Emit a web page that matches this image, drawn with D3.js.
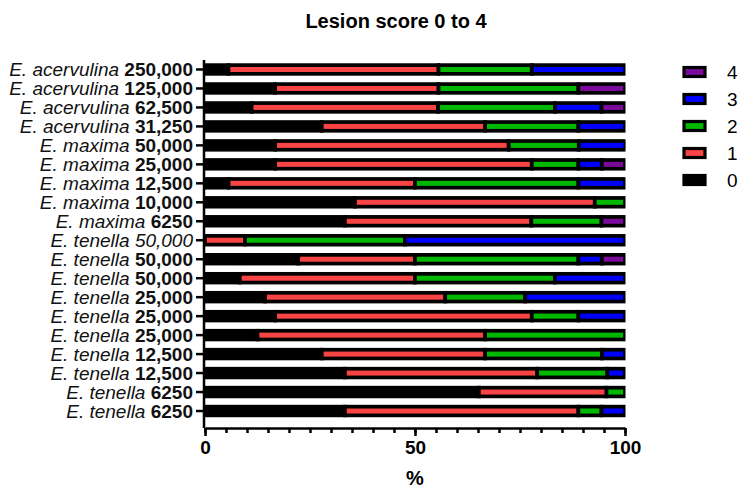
<!DOCTYPE html>
<html>
<head>
<meta charset="utf-8">
<script src="https://cdn.jsdelivr.net/npm/d3@7"></script>
<style>
  body { margin: 0; background: #fff; }
  text { font-family: "Liberation Sans", Arial, sans-serif; }
</style>
</head>
<body>
<div id="chart"></div>
<script>
// lesion score stacked bars, percent of birds per score

var species = ["E. acervulina", "E. acervulina", "E. acervulina", "E. acervulina",
    "E. maxima", "E. maxima", "E. maxima", "E. maxima", "E. maxima",
    "E. tenella", "E. tenella", "E. tenella", "E. tenella", "E. tenella",
    "E. tenella", "E. tenella", "E. tenella", "E. tenella", "E. tenella"];
var doses = ["250,000", "125,000", "62,500", "31,250",
    "50,000", "25,000", "12,500", "10,000", "6250",
    "50,000", "50,000", "50,000", "25,000", "25,000",
    "25,000", "12,500", "12,500", "6250", "6250"];
// row 10 is written all in italic, number not bold
var doseBold = [1,1,1,1, 1,1,1,1,1, 0,1,1,1,1, 1,1,1,1,1];

var score0 = [5.6, 16.7, 11.1, 27.8, 16.7, 16.7, 5.6, 35.7, 33.3, 0, 22.2, 8.3, 14.3, 16.7, 12.5, 27.8, 33.3, 65.2, 33.3];
var score1 = [50.0, 38.9, 44.4, 38.9, 55.6, 61.1, 44.4, 57.1, 44.4, 9.5, 27.8, 41.7, 42.9, 61.1, 54.2, 38.9, 45.8, 30.4, 55.6];
var score2 = [22.2, 33.3, 27.8, 22.2, 16.7, 11.1, 38.9, 7.2, 16.7, 38.1, 38.9, 33.3, 19.0, 11.1, 33.3, 27.8, 16.7, 4.4, 5.5];
var score3 = [22.2, 0, 11.1, 11.1, 11.1, 5.6, 11.1, 0, 0, 52.4, 5.6, 16.7, 23.8, 11.1, 0, 5.5, 4.2, 0, 5.6];
var score4 = [0, 11.1, 5.6, 0, 0, 5.5, 0, 0, 5.6, 0, 5.5, 0, 0, 0, 0, 0, 0, 0, 0];

var scoreKeys = ["0", "1", "2", "3", "4"];
var scoreColors = ["#000000", "#f84444", "#00b800", "#0000ff", "#7b0a9c"];
var xTicks = [0, 50, 100];

var width = 741, height = 493;
var mLeft = 205, mRight = 625, mTop = 60, mBottom = 420.5;

var rows = species.map(function(s, i) {
    return {i: i, sp: s, dose: doses[i], bold: doseBold[i],
            "0": score0[i], "1": score1[i], "2": score2[i], "3": score3[i], "4": score4[i]};
});

var svg = d3.select("#chart").append("svg")
    .attr("width", width)
    .attr("height", height);

svg.append("defs").append("clipPath")
    .attr("id", "plotclip")
    .append("rect")
    .attr("x", 200).attr("y", 0)
    .attr("width", mRight - 200 + 0.5).attr("height", height);

var x = d3.scaleLinear().domain([0, 100]).range([mLeft, mRight]);
var y = d3.scaleBand().domain(d3.range(rows.length)).range([mTop, mBottom]).paddingInner(0.54).paddingOuter(0.27);

var stack = d3.stack().keys(scoreKeys);
var series = stack(rows);

var barH = y.bandwidth();
var sw = 3.7;

var g = svg.append("g").attr("clip-path", "url(#plotclip)");
series.forEach(function(s, k) {
    g.selectAll("rect.s" + k)
        .data(s.filter(function(d){ return d[1] - d[0] > 0; }))
        .enter().append("rect")
        .attr("class", "s" + k)
        .attr("x", function(d){ return x(d[0]); })
        .attr("y", function(d){ return y(d.data.i); })
        .attr("width", function(d){ return x(d[1]) - x(d[0]); })
        .attr("height", barH)
        .attr("fill", scoreColors[k])
        .attr("stroke", "#000")
        .attr("stroke-width", sw);
});

// y axis
var yAxis = svg.append("g")
    .attr("transform", "translate(" + (mLeft - 1) + ",0)")
    .call(d3.axisLeft(y).tickSize(8).tickFormat(""));
yAxis.select(".domain").attr("d", "M0," + (mTop) + "V" + (mBottom + 7.5));
yAxis.selectAll("path, line").attr("stroke", "#000").attr("stroke-width", 2.5);

var labels = svg.append("g").selectAll("text")
    .data(rows).enter().append("text")
    .attr("x", mLeft - 12)
    .attr("y", function(d){ return y(d.i) + barH / 2; })
    .attr("dy", "0.36em")
    .attr("text-anchor", "end")
    .attr("font-size", "19px")
    .attr("fill", "#111");
labels.append("tspan").attr("font-style", "italic").text(function(d){ return d.sp + " "; });
labels.append("tspan")
    .attr("font-weight", function(d){ return d.bold ? "bold" : "normal"; })
    .attr("font-style", function(d){ return d.bold ? "normal" : "italic"; })
    .text(function(d){ return d.dose; });

// x axis with minor ticks
var axisY = 428;
var xMinor = svg.append("g")
    .attr("transform", "translate(0," + axisY + ")")
    .call(d3.axisBottom(x).tickValues(d3.range(0, 101, 5)).tickSize(5).tickFormat(""));
xMinor.select(".domain").remove();
xMinor.selectAll("line").attr("stroke", "#000").attr("stroke-width", 2.5);

var xAxis = svg.append("g")
    .attr("transform", "translate(0," + axisY + ")")
    .call(d3.axisBottom(x).tickValues(xTicks).tickSize(8).tickPadding(5).tickSizeOuter(0));
xAxis.select(".domain").attr("stroke-width", 2.5);
xAxis.selectAll("line").attr("stroke", "#000").attr("stroke-width", 2.5);
xAxis.selectAll("text")
    .attr("font-size", "19px")
    .attr("font-weight", "bold")
    .attr("fill", "#000")
    .style("font-family", "Liberation Sans, Arial, sans-serif");

svg.append("text")
    .attr("x", (mLeft + mRight) / 2)
    .attr("y", 485)
    .attr("text-anchor", "middle")
    .attr("font-size", "20px")
    .attr("font-weight", "bold")
    .text("%");

svg.append("text")
    .attr("x", 396)
    .attr("y", 28)
    .attr("text-anchor", "middle")
    .attr("font-size", "20px")
    .attr("font-weight", "bold")
    .text("Lesion score 0 to 4");

// legend, top to bottom 4..0
var legendKeys = scoreKeys.slice().reverse();
var leg = svg.append("g").selectAll("g")
    .data(legendKeys).enter().append("g")
    .attr("transform", function(d, i){ return "translate(684," + (72 + i * 27) + ")"; });
leg.append("rect")
    .attr("x", 0).attr("y", -4.5)
    .attr("width", 21).attr("height", 9)
    .attr("fill", function(d){ return scoreColors[+d]; })
    .attr("stroke", "#000")
    .attr("stroke-width", 3.2);
leg.append("text")
    .attr("x", 43)
    .attr("dy", "0.36em")
    .attr("font-size", "19px")
    .text(function(d){ return d; });
</script>
</body>
</html>
